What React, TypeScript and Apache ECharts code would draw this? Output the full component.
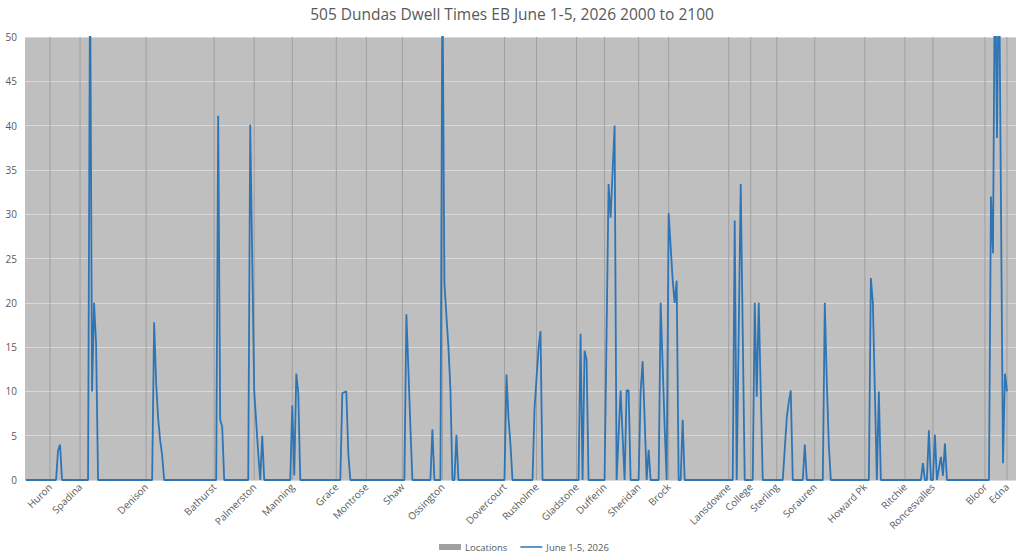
import React, { useEffect, useRef } from "react";
import * as echarts from "echarts";

const TITLE = "505 Dundas Dwell Times EB June 1-5, 2026 2000 to 2100";
const SAMPLE_COUNT = 495;

const locationNames = [
  "Huron", "Spadina", "Denison", "Bathurst", "Palmerston", "Manning", "Grace",
  "Montrose", "Shaw", "Ossington", "Dovercourt", "Rusholme", "Gladstone",
  "Dufferin", "Sheridan", "Brock", "Lansdowne", "College", "Sterling",
  "Sorauren", "Howard Pk", "Ritchie", "Roncesvalles", "Bloor", "Edna",
];
const locationIndex = [
  12, 27, 60, 94, 114, 133, 155, 170, 188, 208, 239, 255, 275, 289, 306, 321,
  351, 362, 375, 394, 419, 439, 453, 479, 490,
];
const locationValue = 50;

// sample position along the route and dwell time (seconds)
const dwellIdx = [
  0,
  15, 16, 17, 18,
  31, 32, 33, 34, 35, 36,
  63, 64, 65, 66, 67, 68, 69,
  95, 96, 97, 98, 99,
  111, 112, 114, 115, 116, 117, 118, 119,
  132, 133, 134, 135, 136, 137,
  157, 158, 159, 160, 161, 162,
  189, 190, 191, 192, 193,
  202, 203, 204,
  207, 208, 209, 210, 211, 212, 213, 214, 215, 216,
  239, 240, 241, 242, 243,
  253, 254, 255, 256, 257, 258,
  276, 277, 278, 279, 280, 281,
  289, 291, 292, 294, 295, 297, 299, 300, 301, 302,
  306, 307, 308, 309, 310, 311, 312,
  316, 317, 318, 319, 320, 321, 323, 324, 325, 326,
  327, 328, 329,
  353, 354, 355, 357, 359,
  363, 364, 365, 366, 368,
  378, 380, 381, 382, 383,
  388, 389, 390,
  398, 399, 400, 401, 402,
  421, 422, 423, 424, 425, 426, 427,
  447, 448, 449, 450, 451, 452, 453, 454, 455, 457, 458, 459, 460,
  481, 482, 483, 484, 485, 486, 488, 489, 490,
];
const dwellVal = [
  0,
  0, 3.3, 4, 0,
  0, 58, 10, 20, 15.4, 0,
  0, 17.8, 11, 7, 4.5, 2.8, 0,
  0, 41.1, 6.8, 6, 0,
  0, 40.1, 10, 6.5, 3, 0, 5, 0,
  0, 8.4, 0.5, 12, 9.8, 0,
  0, 9.8, 9.9, 10, 3, 0,
  0, 18.7, 12.5, 6, 0,
  0, 5.7, 0,
  0, 58, 22.2, 18.5, 15, 10.2, 0, 0, 5.1, 0,
  0, 11.9, 7, 4, 0,
  0, 8, 11.5, 14.8, 16.8, 0,
  0, 16.5, 0, 14.6, 13.6, 0,
  0, 33.4, 29.6, 40, 0, 10.1, 0, 10.1, 10.1, 0,
  0, 10, 13.4, 7, 0, 3.4, 0,
  0, 20, 13, 6, 0, 30.1, 22.6, 20, 22.5, 0,
  0, 6.8, 0,
  0, 29.3, 0, 33.4, 0,
  0, 20, 9.4, 20, 0,
  0, 7, 8.8, 10.1, 0,
  0, 4, 0,
  0, 20, 11, 4, 0,
  0, 22.8, 20, 10, 0, 10, 0,
  0, 1.9, 0, 0, 5.6, 0, 0, 5.1, 0, 2.6, 0.5, 4.1, 0,
  0, 32, 25.6, 60, 38.6, 60, 1.9, 12, 10,
];

const FONT = "'Open Sans', 'Noto Sans', sans-serif";
const TEXT_COLOR = "#595959";
const LINE_ICON = "path://M0,0h0.01v0.01h-0.01z M0,2.2h22v1.6h-22z M0,6h0.01v0.01h-0.01z";

export default function App() {
  const ref = useRef<HTMLDivElement>(null);

  useEffect(() => {
    if (!ref.current) return;
    const chart = echarts.init(ref.current, undefined, { renderer: "svg" });

    const categories: string[] = [];
    const locBars: (number | string)[] = [];
    for (let i = 0; i < SAMPLE_COUNT; i++) {
      categories.push("");
      locBars.push("-");
    }
    locationIndex.forEach((idx, k) => {
      categories[idx] = locationNames[k];
      locBars[idx] = locationValue;
    });
    const lineData = dwellIdx.map((x, k) => [x, dwellVal[k]]);

    chart.setOption({
      animation: false,
      textStyle: { fontFamily: FONT },
      title: {
        text: TITLE,
        left: "center",
        top: 1,
        textStyle: { fontFamily: FONT, fontSize: 15.5, fontWeight: "normal", color: TEXT_COLOR },
      },
      legend: {
        bottom: 3,
        left: 434,
        itemGap: 13,
        itemWidth: 22,
        itemHeight: 6,
        textStyle: { fontFamily: FONT, fontSize: 9.5, color: TEXT_COLOR, padding: [0, 0, 0, -1] },
        data: [
          { name: "Locations", icon: "rect" },
          { name: "June 1-5, 2026", icon: LINE_ICON },
        ],
      },
      grid: {
        left: 25,
        right: 8,
        top: 37,
        bottom: 80,
        show: true,
        backgroundColor: "#bfbfbf",
        borderWidth: 0,
      },
      xAxis: [
        {
          type: "category",
          data: categories,
          boundaryGap: true,
          axisLine: { show: false },
          axisTick: { show: false },
          splitLine: { show: false },
          axisLabel: {
            interval: (_i: number, v: string) => v !== "",
            rotate: 45,
            margin: 5,
            fontFamily: FONT,
            fontSize: 10,
            color: TEXT_COLOR,
          },
        },
        {
          type: "value",
          min: -0.5,
          max: SAMPLE_COUNT - 0.5,
          show: false,
          splitLine: { show: false },
        },
      ],
      yAxis: {
        type: "value",
        min: 0,
        max: 50,
        interval: 5,
        axisLine: { show: false },
        axisTick: { show: false },
        axisLabel: { fontFamily: FONT, fontSize: 10, color: TEXT_COLOR, margin: 8 },
        splitLine: { lineStyle: { color: "#d9d9d9", width: 1 } },
      },
      series: [
        {
          name: "Locations",
          type: "bar",
          xAxisIndex: 0,
          data: locBars,
          barWidth: 1,
          itemStyle: { color: "#a0a0a0" },
          z: 1,
        },
        {
          name: "June 1-5, 2026",
          type: "line",
          xAxisIndex: 1,
          data: lineData,
          symbol: "none",
          showSymbol: false,
          clip: true,
          lineStyle: { color: "#2e75b6", width: 1.8 },
          itemStyle: { color: "#2e75b6" },
          z: 3,
        },
      ],
    });

    return () => chart.dispose();
  }, []);

  return (
    <div
      ref={ref}
      style={{ position: "fixed", left: 0, top: 0, width: 1024, height: 560, background: "#ffffff" }}
    />
  );
}
